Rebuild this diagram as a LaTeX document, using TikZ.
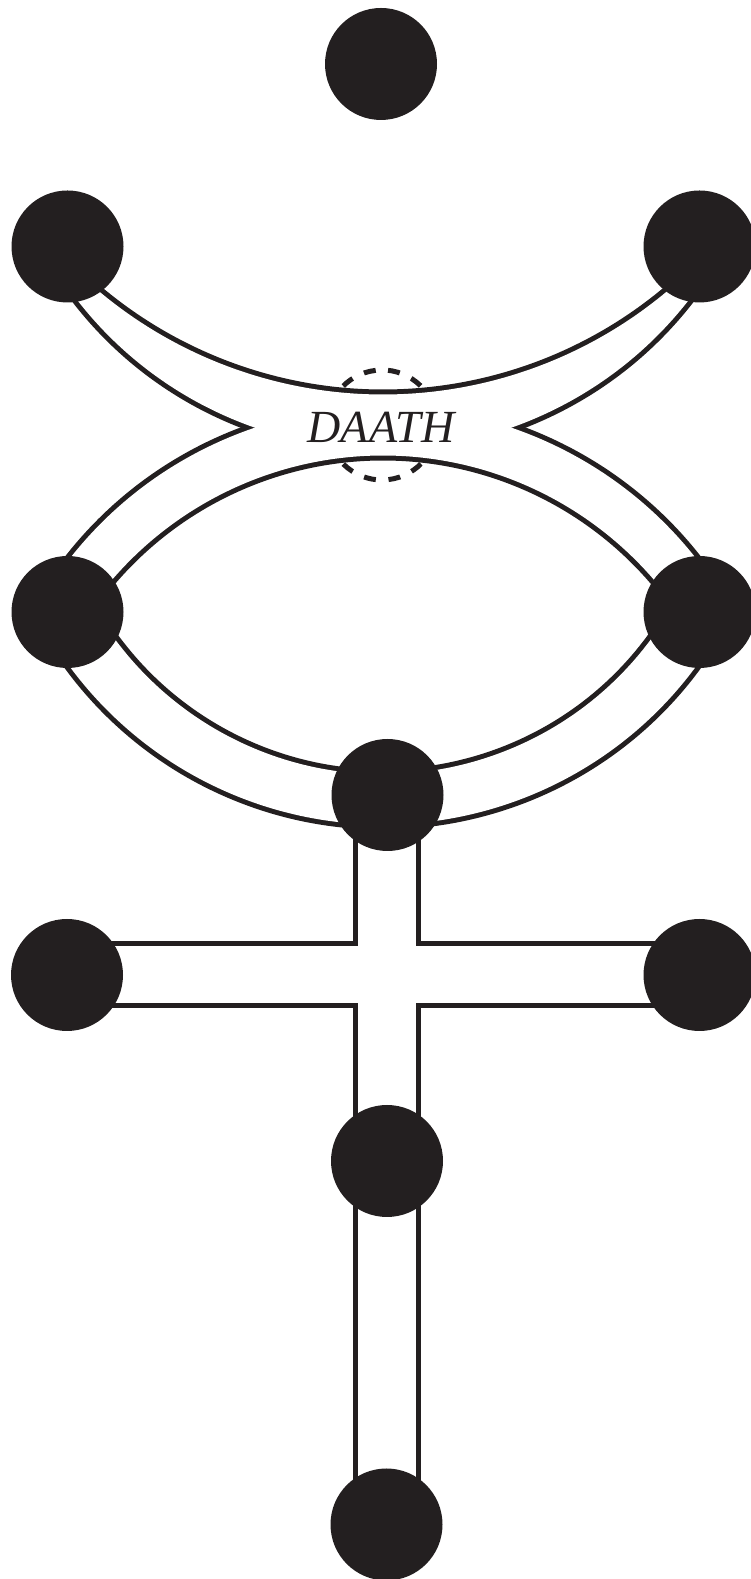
\documentclass[tikz,border=0pt]{standalone}
\usepackage{fontspec}
\setmainfont{Liberation Serif}
\usetikzlibrary{calc,backgrounds}
\definecolor{ink}{HTML}{231F20}
\tikzset{
    sephira/.style={circle, fill=ink, minimum size=112pt, inner sep=0pt},
    rim/.style={draw=ink, line width=10pt, line join=round},
}
% outlines of the horns and of the eye
\newcommand{\hornspath}{($(383,1517)+(210.3:387.5)$) arc[start angle=210.3, end angle=329.7, radius=387.5pt]
    -- ($(383,1627)+(317:442.5)$) arc[start angle=317, end angle=223, radius=442.5pt] -- cycle}
\newcommand{\eyeouter}{($(383,774)+(150.71:398.5)$) arc[start angle=150.71, end angle=29.29, radius=398.5pt]
    arc[start angle=-26.68, end angle=-153.32, radius=389.25pt] -- cycle}
\newcommand{\eyeinner}{($(383,766)+(144.33:357.5)$) arc[start angle=144.33, end angle=35.67, radius=357.5pt]
    arc[start angle=-29.42, end angle=-150.58, radius=333.5pt] -- cycle}

\begin{document}
\begin{tikzpicture}[x=1pt,y=1pt]
    \useasboundingbox (0,0) rectangle (751,1579);
    \node[sephira] (kether) at (381,1515) {};
    \node[sephira] (binah) at (67.5,1332.5) {};
    \node[sephira] (chokmah) at (699.5,1332.5) {};
    \node[sephira] (geburah) at (67.5,967) {};
    \node[sephira] (chesed) at (699.5,967) {};
    \node[sephira] (tiphareth) at (387.5,784) {};
    \node[sephira] (hod) at (67,604) {};
    \node[sephira] (netzach) at (699.5,604) {};
    \node[sephira] (yesod) at (387,418) {};
    \node[sephira] (malkuth) at (386.5,54.5) {};
    \node[font=\fontsize{46}{46}\selectfont\itshape, inner sep=0pt, text=ink] (daath) at (381,1152) {DAATH};
    \coordinate (daathring) at (382,1154);

    \begin{scope}[on background layer]
        % hidden sephira
        \draw[ink, line width=5pt, dash pattern=on 12pt off 12.7pt] (daathring) ++(96.6:55) arc[start angle=96.6, delta angle=360, radius=55pt];
        % paths
        \draw[rim] \hornspath;
        \draw[rim] \eyeouter \eyeinner;
        \draw[rim] ($(malkuth.center)+(-28.5,0)$) rectangle ($(tiphareth.center)+(28.5,0)$);
        \draw[rim] ($(hod.center)+(0,-28.5)$) rectangle ($(netzach.center)+(0,28.5)$);
        \fill[white] \hornspath;
        \fill[white, even odd rule] \eyeouter \eyeinner;
        \fill[white] ($(malkuth.center)+(-28.5,0)$) rectangle ($(tiphareth.center)+(28.5,0)$);
        \fill[white] ($(hod.center)+(0,-28.5)$) rectangle ($(netzach.center)+(0,28.5)$);
    \end{scope}
\end{tikzpicture}
\end{document}
